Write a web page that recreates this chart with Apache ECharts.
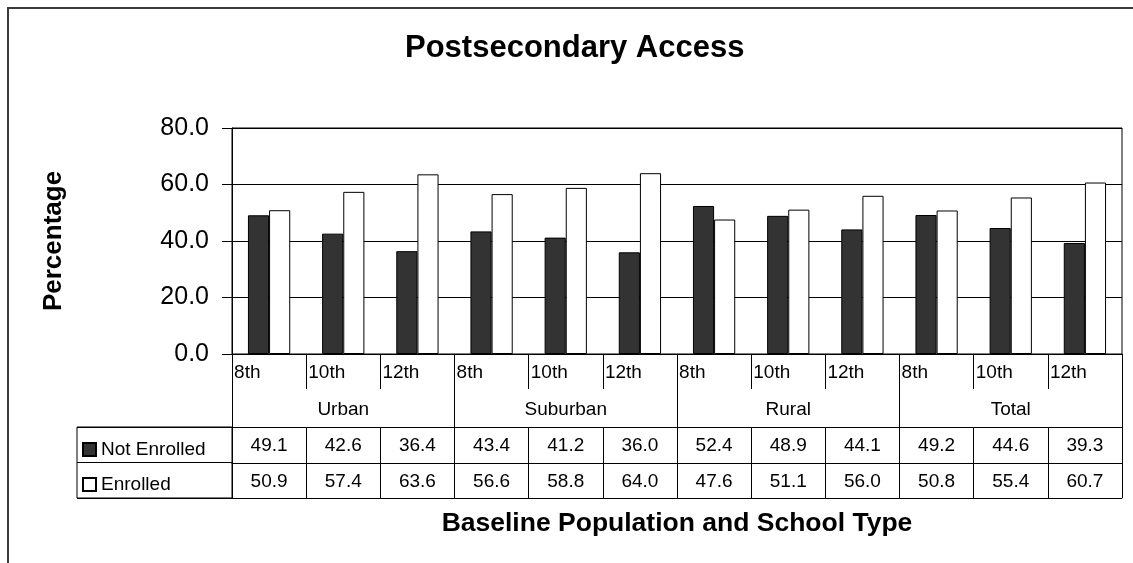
<!DOCTYPE html>
<html><head><meta charset="utf-8">
<script src="https://cdn.jsdelivr.net/npm/echarts@6/dist/echarts.min.js"></script>
<style>html,body{margin:0;padding:0;background:#fff}#c{width:1133px;height:563px}</style>
</head><body><div id="c"></div>
<script>
const groups = ['Urban', 'Suburban', 'Rural', 'Total'];
const gradeLabels = ['8th', '10th', '12th', '8th', '10th', '12th', '8th', '10th', '12th', '8th', '10th', '12th'];
const categories = ['Urban 8th', 'Urban 10th', 'Urban 12th', 'Suburban 8th', 'Suburban 10th', 'Suburban 12th',
  'Rural 8th', 'Rural 10th', 'Rural 12th', 'Total 8th', 'Total 10th', 'Total 12th'];
const notEnrolled = [49.1, 42.6, 36.4, 43.4, 41.2, 36.0, 52.4, 48.9, 44.1, 49.2, 44.6, 39.3];
const enrolled = [50.9, 57.4, 63.6, 56.6, 58.8, 64.0, 47.6, 51.1, 56.0, 50.8, 55.4, 60.7];
const seriesNames = ['Not Enrolled', 'Enrolled'];

const FONT = '"Liberation Sans", Arial, sans-serif';
const LINE = { color: '#000', width: 1 };
const txt = (size, extra) => Object.assign({ fontSize: size, fontFamily: FONT, color: '#000' }, extra || {});

const chart = echarts.init(document.getElementById('c'), null, { renderer: 'canvas' });
chart.setOption({
  animation: false,
  backgroundColor: '#fff',
  title: {
    text: 'Postsecondary Access',
    left: 400, top: 28,
    textStyle: txt(31, { fontWeight: 'bold' })
  },
  legend: {
    data: seriesNames,
    orient: 'vertical',
    left: 82, top: 440, padding: 0,
    itemWidth: 13, itemHeight: 13, itemGap: 16,
    icon: 'rect',
    selectedMode: false,
    textStyle: txt(19)
  },
  grid: [
    { left: 232, top: 128, width: 890, height: 226, show: true, borderColor: '#000', borderWidth: 1, backgroundColor: 'transparent', outerBoundsMode: 'none', containLabel: false },
    { left: 77, top: 427, width: 155, height: 71, show: true, borderColor: '#000', borderWidth: 1, backgroundColor: 'transparent', outerBoundsMode: 'none', containLabel: false },
    { left: 8, top: 8, width: 1300, height: 800, show: true, borderColor: '#3a3a3a', borderWidth: 2, backgroundColor: 'transparent', outerBoundsMode: 'none', containLabel: false }
  ],
  xAxis: [
    {
      gridIndex: 0, type: 'category', data: categories, position: 'bottom',
      axisLine: { show: true, lineStyle: LINE },
      axisTick: { show: true, interval: 0, length: 35, lineStyle: LINE },
      axisLabel: {
        interval: 0, margin: 9,
        formatter: (v, i) => '{a|' + gradeLabels[i] + '}',
        rich: { a: txt(19, { width: 70, align: 'left', lineHeight: 19 }) }
      },
      splitLine: { show: false }
    },
    {
      gridIndex: 0, type: 'category', data: categories, position: 'bottom',
      axisLine: { show: false },
      axisTick: { show: true, interval: (i) => i % 3 === 0, length: 73, lineStyle: LINE },
      axisLabel: Object.assign({
        interval: (i) => i % 3 === 1, margin: 46,
        formatter: (v, i) => groups[Math.floor(i / 3)]
      }, txt(19, { lineHeight: 19 })),
      splitLine: { show: false }
    },
    {
      gridIndex: 0, type: 'category', data: categories, position: 'bottom', offset: 73,
      axisLine: { show: true, lineStyle: LINE },
      axisTick: { show: true, interval: 0, length: 71, lineStyle: LINE },
      axisLabel: Object.assign({
        interval: 0, margin: 9,
        formatter: (v, i) => notEnrolled[i].toFixed(1)
      }, txt(19, { lineHeight: 19 })),
      splitLine: { show: false }
    },
    {
      gridIndex: 0, type: 'category', data: categories, position: 'bottom', offset: 109,
      axisLine: { show: true, lineStyle: LINE },
      axisTick: { show: false },
      axisLabel: Object.assign({
        interval: 0, margin: 9,
        formatter: (v, i) => enrolled[i].toFixed(1)
      }, txt(19, { lineHeight: 19 })),
      splitLine: { show: false }
    },
    {
      gridIndex: 0, type: 'category', data: categories, position: 'bottom', offset: 144,
      axisLine: { show: true, lineStyle: LINE },
      axisTick: { show: false },
      axisLabel: { show: false },
      splitLine: { show: false },
      name: 'Baseline Population and School Type',
      nameLocation: 'middle', nameGap: 12,
      nameTextStyle: txt(26.5, { fontWeight: 'bold' })
    },
    { gridIndex: 1, type: 'category', data: [''], show: false },
    { gridIndex: 2, type: 'category', data: [''], show: false }
  ],
  yAxis: [
    {
      gridIndex: 0, type: 'value', min: 0, max: 80, interval: 20,
      axisLine: { show: true, lineStyle: LINE },
      axisTick: { show: true, length: 10, lineStyle: LINE },
      axisLabel: Object.assign({ margin: 23, formatter: (v) => v.toFixed(1) }, txt(25)),
      splitLine: { show: true, lineStyle: LINE },
      name: 'Percentage', nameLocation: 'middle', nameRotate: 90, nameGap: 165,
      nameTextStyle: txt(26, { fontWeight: 'bold' })
    },
    {
      gridIndex: 1, type: 'category', data: seriesNames,
      axisLine: { show: false }, axisTick: { show: false }, axisLabel: { show: false },
      splitLine: { show: true, lineStyle: LINE }
    },
    { gridIndex: 2, type: 'value', show: false }
  ],
  series: [
    {
      name: seriesNames[0], type: 'bar', xAxisIndex: 0, yAxisIndex: 0, data: notEnrolled,
      barGap: '0%', barCategoryGap: '43%',
      itemStyle: { color: '#333333', borderColor: '#000', borderWidth: 1 }
    },
    {
      name: seriesNames[1], type: 'bar', xAxisIndex: 0, yAxisIndex: 0, data: enrolled,
      barGap: '0%', barCategoryGap: '43%',
      itemStyle: { color: '#ffffff', borderColor: '#000', borderWidth: 1 }
    }
  ]
});
</script></body></html>
